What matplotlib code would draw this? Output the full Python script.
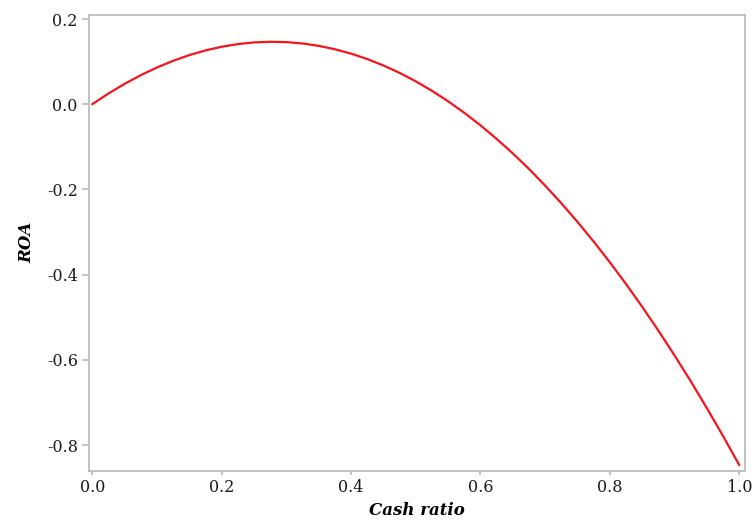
import matplotlib
matplotlib.use("Agg")
from matplotlib import pyplot as plt

# values
cash_ratio = [0.000, 0.025, 0.050, 0.075, 0.100, 0.125, 0.150, 0.175, 0.200, 0.225,
              0.250, 0.275, 0.300, 0.325, 0.350, 0.375, 0.400, 0.425, 0.450, 0.475,
              0.500, 0.525, 0.550, 0.575, 0.600, 0.625, 0.650, 0.675, 0.700, 0.725,
              0.750, 0.775, 0.800, 0.825, 0.850, 0.875, 0.900, 0.925, 0.950, 0.975,
              1.000]
roa = [0.0000, 0.0251, 0.0478, 0.0682, 0.0862, 0.1019, 0.1153, 0.1263, 0.1349, 0.1412,
       0.1451, 0.1466, 0.1458, 0.1426, 0.1370, 0.1291, 0.1188, 0.1061, 0.0910, 0.0736,
       0.0538, 0.0315, 0.0069, -0.0201, -0.0495, -0.0813, -0.1154, -0.1520, -0.1910, -0.2324,
       -0.2762, -0.3224, -0.3710, -0.4220, -0.4755, -0.5314, -0.5896, -0.6503, -0.7135, -0.7790,
       -0.8470]

x_ticks = [0.0, 0.2, 0.4, 0.6, 0.8, 1.0]
y_ticks = [0.2, 0.0, -0.2, -0.4, -0.6, -0.8]

plt.rcParams["font.family"] = ["DejaVu Serif"]

fig = plt.figure(figsize=(7.54, 5.25), dpi=100)
ax = fig.add_axes([0.118, 0.1034, 0.870, 0.868])

ax.plot(cash_ratio, roa, color="#f5141c", linewidth=1.6, solid_capstyle="round")

ax.set_xlim(-0.005, 1.0087)
ax.set_ylim(-0.86, 0.2094)
ax.set_xticks(x_ticks)
ax.set_yticks(y_ticks)
ax.set_xticklabels([f"{v:.1f}" for v in x_ticks])
ax.set_yticklabels([f"{v:.1f}" for v in y_ticks])

for s in ax.spines.values():
    s.set_color("#b8b8b8")
    s.set_linewidth(1.2)

ax.tick_params(axis="both", colors="#b8b8b8", labelcolor="#1a1a1a", labelsize=11.5, width=1.2)
ax.tick_params(axis="y", length=5, pad=3)
ax.tick_params(axis="x", length=3, pad=3)

ax.set_xlabel("Cash ratio", fontsize=12, fontweight="bold", fontstyle="italic", labelpad=4)
ax.set_ylabel("ROA", fontsize=12, fontweight="bold", fontstyle="italic", labelpad=8)

fig.savefig("out.png", dpi=100)
